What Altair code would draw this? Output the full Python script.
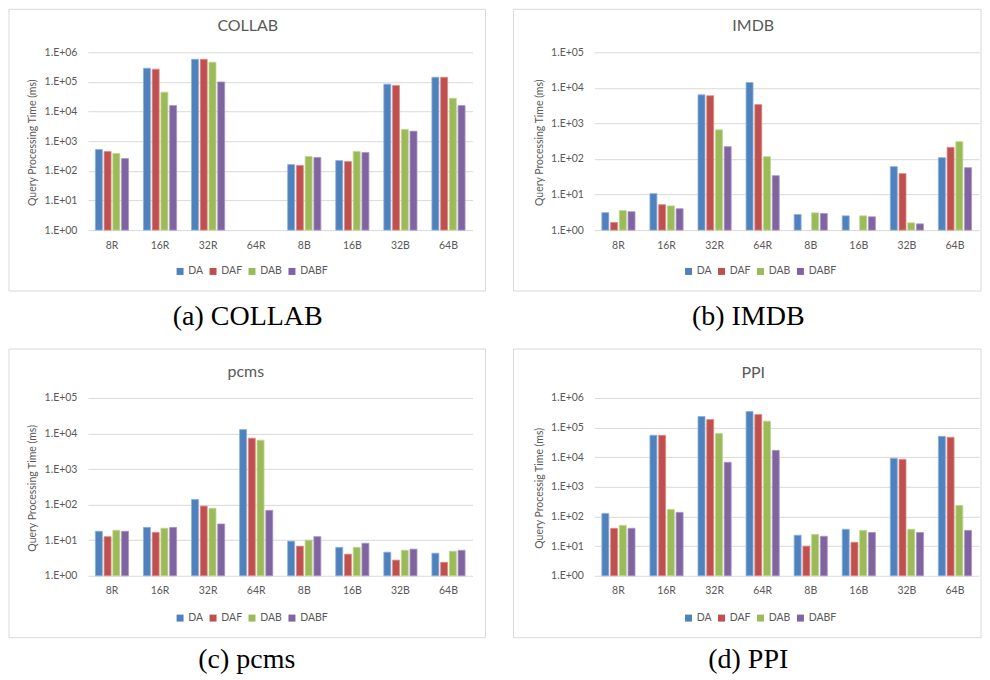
import altair as alt
import pandas as pd

FONT = "Lato"
TXT = "#595959"
GRID = "#d9d9d9"

categories = ["8R", "16R", "32R", "64R", "8B", "16B", "32B", "64B"]
series = ["DA", "DAF", "DAB", "DABF"]
colors = ["#4F81BD", "#C0504D", "#9BBB59", "#8064A2"]
edges = ["#8EB0DA", "#DB8E8C", "#BFD58F", "#A995C2"]

# COLLAB (64R not available)
collab_da = [525, 290000, 580000, None, 163, 222, 84000, 144000]
collab_daf = [450, 270000, 580000, None, 152, 206, 76000, 144000]
collab_dab = [385, 45000, 460000, None, 305, 450, 2500, 28000]
collab_dabf = [260, 16000, 100000, None, 282, 415, 2180, 16000]

# IMDB
imdb_da = [3.1, 10.6, 6360, 14100, 2.75, 2.52, 61, 109]
imdb_daf = [1.64, 5.2, 6000, 3400, None, None, 39, 213]
imdb_dab = [3.55, 4.8, 660, 116, 3.06, 2.52, 1.6, 307]
imdb_dabf = [3.3, 4.0, 222, 34, 2.93, 2.37, 1.5, 57]

# pcms
pcms_da = [17.8, 23, 140, 12900, 9.4, 6.3, 4.6, 4.3]
pcms_daf = [12.6, 16.7, 91, 7400, 6.8, 4.05, 2.75, 2.4]
pcms_dab = [19, 21.7, 79, 6500, 10, 6.3, 5.2, 4.9]
pcms_dabf = [17.8, 23, 28.6, 69, 12.6, 8.2, 5.6, 5.2]

# PPI
ppi_da = [127, 55000, 237000, 347000, 23.3, 37, 9200, 50600]
ppi_daf = [40, 55000, 187000, 275000, 10, 13.5, 8500, 47000]
ppi_dab = [50, 173, 63500, 165000, 25, 34, 37, 236]
ppi_dabf = [40, 138, 6750, 17000, 21.5, 29, 29, 34]

W, H = 385, 178


def make_panel(title, caption, ytitle, lists, ymax_exp, frame, title_xy, cap_xy, legend_xy):
    rows = []
    for s, vals in zip(series, lists):
        for c, v in zip(categories, vals):
            if v is not None:
                rows.append({"cat": c, "series": s, "value": v})
    df = pd.DataFrame(rows)

    one = alt.Data(values=[{"k": 0}])
    fx1, fx2, fy1, fy2 = frame
    box = alt.Chart(one).mark_rect(
        fill="white", fillOpacity=0, stroke=GRID, strokeWidth=1
    ).encode(
        x=alt.value(fx1), x2=alt.value(fx2), y=alt.value(fy1), y2=alt.value(fy2)
    )
    ttl = alt.Chart(one).mark_text(
        text=title, font=FONT, fontSize=16, color=TXT, align="center", baseline="alphabetic"
    ).encode(x=alt.value(title_xy[0]), y=alt.value(title_xy[1]))
    cap = alt.Chart(one).mark_text(
        text=caption, font="Liberation Serif", fontSize=28, color="black",
        align="center", baseline="alphabetic"
    ).encode(x=alt.value(cap_xy[0]), y=alt.value(cap_xy[1]))

    bars = alt.Chart(df).mark_bar(strokeWidth=0.8).encode(
        x=alt.X(
            "cat:N",
            sort=categories,
            scale=alt.Scale(domain=categories, paddingInner=0.31, paddingOuter=0.155),
            axis=alt.Axis(
                title=None, labelAngle=0, domain=False, ticks=False, grid=False,
                labelPadding=10, labelFont=FONT, labelFontSize=10.5, labelColor=TXT,
            ),
        ),
        xOffset=alt.XOffset(
            "series:N", sort=series, scale=alt.Scale(domain=series, paddingInner=0.2)
        ),
        y=alt.Y(
            "value:Q",
            stack=None,
            scale=alt.Scale(type="log", domain=[1, 10 ** ymax_exp], nice=False),
            axis=alt.Axis(
                title=ytitle,
                values=[10 ** i for i in range(ymax_exp + 1)],
                labelExpr="'1.E+0' + format(log(datum.value) / LN10, '.0f')",
                grid=True, gridColor=GRID, gridWidth=1,
                domain=False, ticks=False, labelPadding=11,
                labelFont=FONT, labelFontSize=10.5, labelColor=TXT,
                titleFont=FONT, titleFontSize=10.5, titleColor=TXT, titleFontWeight="normal",
                titleX=-55, titleY=90, titleBaseline="middle", titleAngle=270,
            ),
        ),
        color=alt.Color(
            "series:N",
            sort=series,
            scale=alt.Scale(domain=series, range=colors),
            legend=alt.Legend(
                title=None, orient="none", direction="horizontal",
                legendX=legend_xy[0], legendY=legend_xy[1],
                symbolType="square", symbolSize=49, symbolStrokeWidth=0,
                labelFont=FONT, labelFontSize=10.5, labelColor=TXT,
                labelOffset=3, columnPadding=4, padding=0,
            ),
        ),
        stroke=alt.Stroke(
            "series:N", sort=series, scale=alt.Scale(domain=series, range=edges), legend=None
        ),
    )
    return alt.layer(box, ttl, cap, bars).properties(width=W, height=H)


pa = make_panel("COLLAB", "(a) COLLAB", "Query Processing Time (ms)",
                [collab_da, collab_daf, collab_dab, collab_dabf], 6,
                (-79, 398, -43, 239), (160, -21), (160, 273), (87, 214))
pb = make_panel("IMDB", "(b) IMDB", "Query Processing Time (ms)",
                [imdb_da, imdb_daf, imdb_dab, imdb_dabf], 5,
                (-81, 387, -43, 239), (159, -21), (154, 273), (89, 214))
pc = make_panel("pcms", "(c) pcms", "Query Processing Time (ms)",
                [pcms_da, pcms_daf, pcms_dab, pcms_dabf], 5,
                (-79, 398, -49, 240), (158, -21), (159, 270), (87, 215))
pd_ = make_panel("PPI", "(d) PPI", "Query Processig Time (ms)",
                 [ppi_da, ppi_daf, ppi_dab, ppi_dabf], 6,
                 (-81, 387, -49, 240), (159, -20), (154, 270), (89, 215))

chart = alt.concat(
    pa, pb, pc, pd_,
    columns=2,
    spacing={"row": 168, "column": 122},
    bounds="flush",
).resolve_scale(
    color="independent", stroke="independent"
).resolve_legend(
    color="independent", stroke="independent"
).properties(padding=0).configure_view(stroke=None)

chart.save("out.html", embed_options={"renderer": "svg", "actions": False})
